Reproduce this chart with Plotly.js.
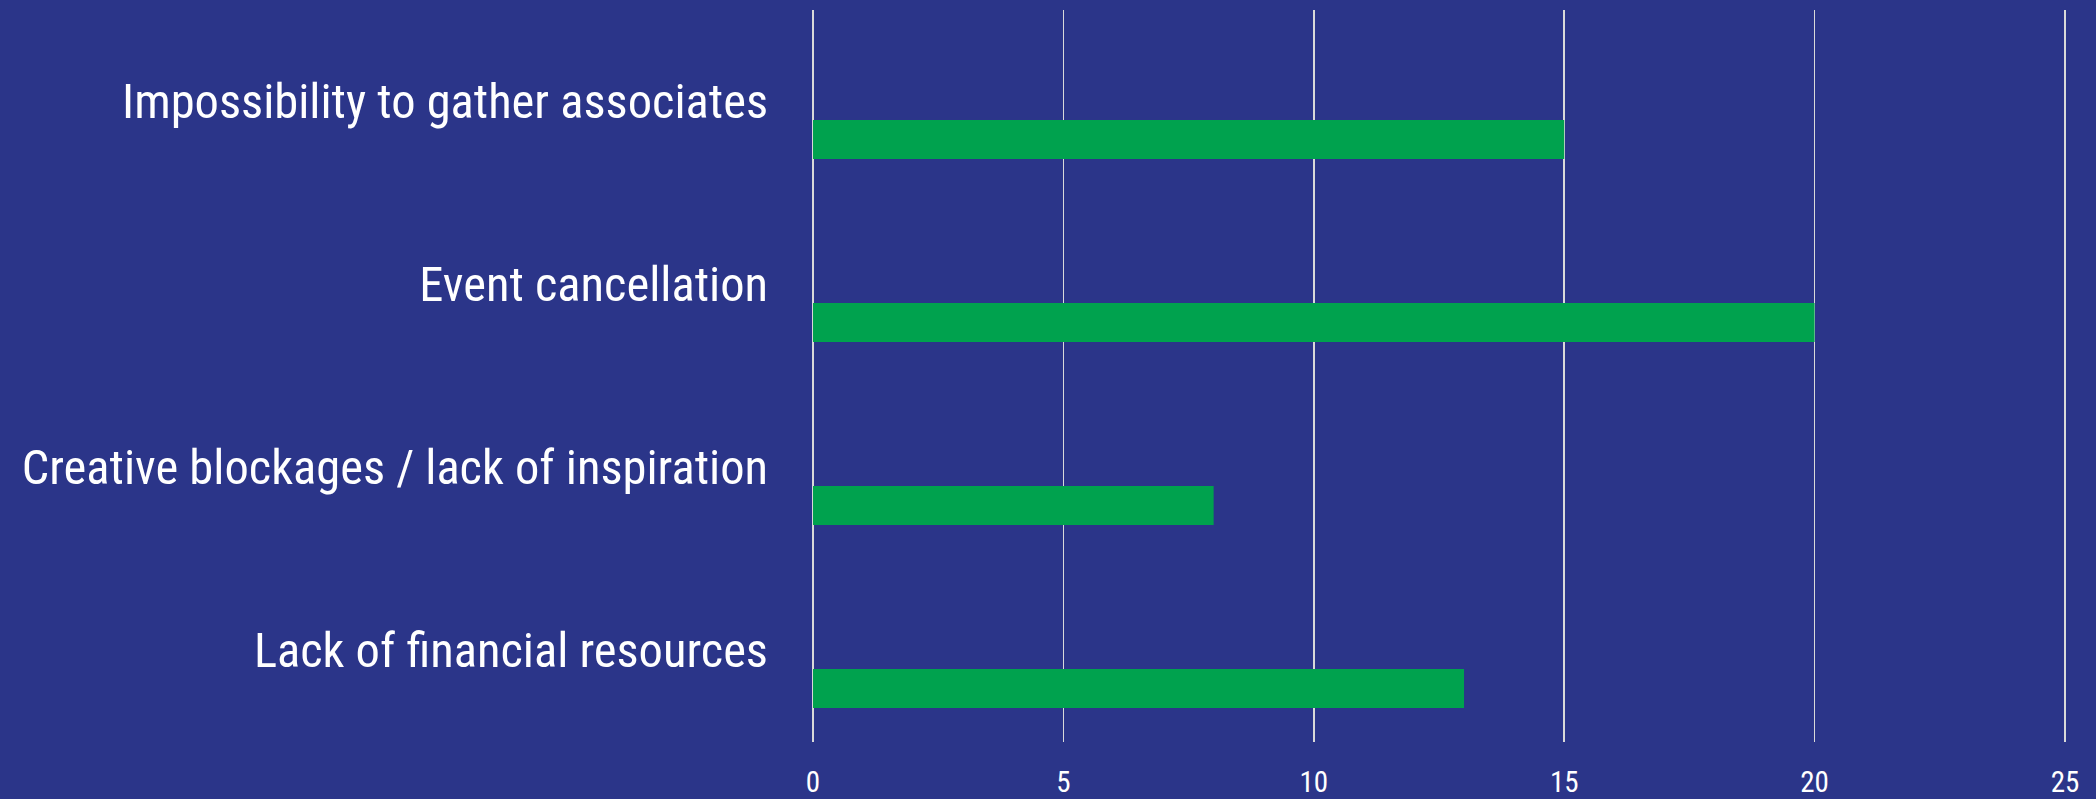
<!DOCTYPE html>
<html>
<head>
<meta charset="utf-8">
<script src="https://cdn.plot.ly/plotly-3.0.1.min.js"></script>
<style>html,body{margin:0;padding:0;background:#2B3589;}#chart{width:2096px;height:799px;}</style>
</head>
<body>
<div id="chart"></div>
<script>
const categories = [
  "Impossibility to gather associates",
  "Event cancellation",
  "Creative blockages / lack of inspiration",
  "Lack of financial resources"
];
const values = [15, 20, 8, 13];
const xTicks = [0, 5, 10, 15, 20, 25];

const FONT = "'Liberation Sans Narrow', 'Roboto Condensed', Roboto, sans-serif";

const trace = {
  type: "bar",
  orientation: "h",
  y: categories,
  x: values,
  width: 0.213,
  offset: 0.101,
  marker: { color: "#00A24E", line: { width: 0 } },
  hoverinfo: "skip"
};

const layout = {
  width: 2096,
  height: 799,
  paper_bgcolor: "#2B3589",
  plot_bgcolor: "#2B3589",
  margin: { l: 813, r: 26, t: 10, b: 57 },
  showlegend: false,
  xaxis: {
    range: [0, 25.1],
    tickvals: xTicks,
    ticktext: xTicks.map(String),
    showgrid: true,
    gridcolor: "#D9D9D9",
    gridwidth: 1.5,
    zeroline: true,
    zerolinecolor: "#D9D9D9",
    zerolinewidth: 1.5,
    showline: false,
    ticks: "",
    ticklabelstandoff: 20,
    tickfont: { family: FONT, size: 29, color: "#FFFFFF" },
    fixedrange: true
  },
  yaxis: {
    type: "category",
    autorange: "reversed",
    showgrid: false,
    zeroline: false,
    showline: false,
    ticks: "",
    ticklabelstandoff: 44,
    tickfont: { family: FONT, size: 48.5, color: "#FFFFFF" },
    fixedrange: true
  }
};

Plotly.newPlot("chart", [trace], layout, { displayModeBar: false, staticPlot: true });
</script>
</body>
</html>
